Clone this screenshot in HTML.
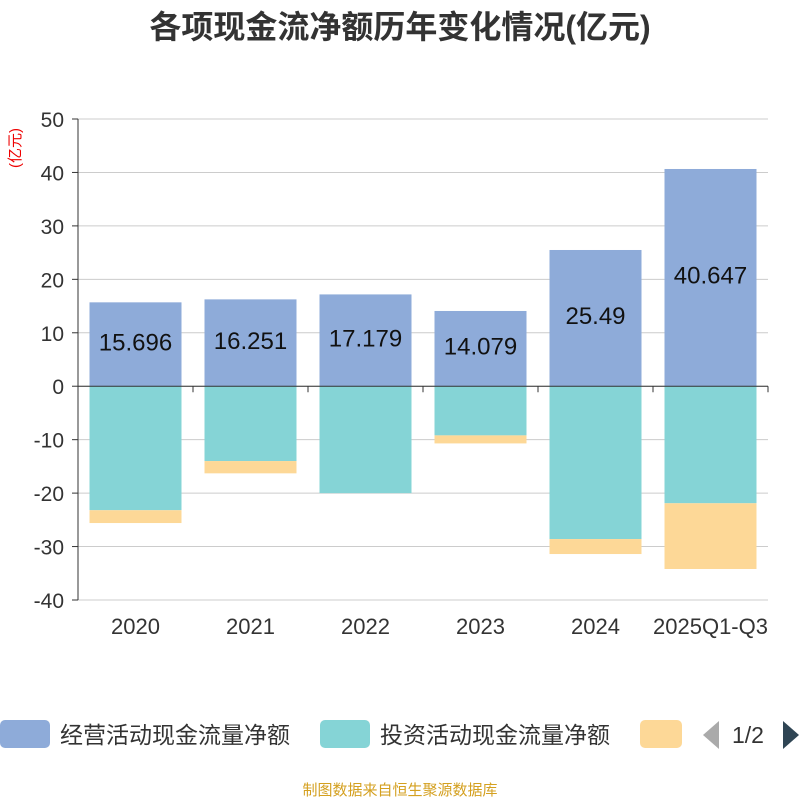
<!DOCTYPE html>
<html><head><meta charset="utf-8"><style>
body{margin:0;background:#fff;font-family:"Liberation Sans","Noto Sans CJK SC",sans-serif;}
</style></head><body>
<svg id="c" width="800" height="800" xmlns="http://www.w3.org/2000/svg">
<text x="400" y="38" text-anchor="middle" font-size="32" font-weight="bold" fill="#333" font-family="Liberation Sans,Noto Sans CJK SC,sans-serif">各项现金流净额历年变化情况(亿元)</text>
<text transform="translate(20,148) rotate(-90)" text-anchor="middle" font-size="15" fill="#e00" font-family="Liberation Sans,Noto Sans CJK SC,sans-serif">(亿元)</text>
<g id="grid"></g><g id="bars"></g><g id="axes"></g>
<g font-family="Liberation Sans,Noto Sans CJK SC,sans-serif" font-size="23" fill="#333">
<rect x="0" y="720" width="50" height="28" rx="5" fill="#8eabd9"/>
<text x="60" y="743">经营活动现金流量净额</text>
<rect x="320" y="720" width="50" height="28" rx="5" fill="#85d4d6"/>
<text x="380" y="743">投资活动现金流量净额</text>
<rect x="640" y="720" width="42" height="28" rx="5" fill="#fdd897"/>
<polygon points="719,721 719,749 703,735" fill="#aaa"/>
<text x="732" y="743" font-size="23">1/2</text>
<polygon points="783,721 783,749 799,735" fill="#2f4554"/>
</g>
<text x="400" y="795" text-anchor="middle" font-size="15" fill="#d4a020" font-family="Liberation Sans,Noto Sans CJK SC,sans-serif">制图数据来自恒生聚源数据库</text>
</svg>
<script>
const categories=["2020","2021","2022","2023","2024","2025Q1-Q3"];
const operating=[15.696,16.251,17.179,14.079,25.49,40.647];
const investing=[-23.2,-14.0,-20.0,-9.2,-28.6,-21.9];
const financing=[-2.4,-2.3,0,-1.5,-2.8,-12.3];
const yTicks=[50,40,30,20,10,0,-10,-20,-30,-40];
const NS="http://www.w3.org/2000/svg";
const x0=78,x1=768,yTop=119,yBot=600,yMax=50,yMin=-40;
const band=(x1-x0)/categories.length,bw=92;
const y=v=>yTop+(yMax-v)/(yMax-yMin)*(yBot-yTop);
const xc=i=>x0+band*(i+0.5);
function mk(t,a,p){const e=document.createElementNS(NS,t);for(const k in a)e.setAttribute(k,a[k]);p.appendChild(e);return e;}
const grid=document.getElementById('grid'),bars=document.getElementById('bars'),axes=document.getElementById('axes');
yTicks.forEach(v=>{
 const l=mk('line',{x1:x0,x2:x1,y1:y(v),y2:y(v),stroke:'#ccc','stroke-width':1},grid);
 
 
 const tk=mk('line',{x1:x0-6,x2:x0,y1:y(v),y2:y(v),stroke:'#333'},axes);
 
 
 const t=mk('text',{x:x0-14,y:y(v)+8,'text-anchor':'end','font-size':21,fill:'#333'},axes);
 t.textContent=v;
 
 
});
categories.forEach((c,i)=>{
 const bx=xc(i)-bw/2;
 const r1=mk('rect',{x:bx,y:y(operating[i]),width:bw,height:y(0)-y(operating[i]),fill:'#8eabd9'},bars);
 
 
 const r2=mk('rect',{x:bx,y:y(0),width:bw,height:y(investing[i])-y(0),fill:'#85d4d6'},bars);
 
 
 const s=investing[i]+financing[i];
 const r3=mk('rect',{x:bx,y:y(investing[i]),width:bw,height:y(s)-y(investing[i]),fill:'#fdd897'},bars);
 
 
 const lb=mk('text',{x:xc(i),y:(y(operating[i])+y(0))/2+6,'text-anchor':'middle','font-size':24,fill:'#111'},bars);
 lb.textContent=operating[i];
 
 
 const xt=mk('text',{x:xc(i),y:634,'text-anchor':'middle','font-size':22,fill:'#333'},axes);
 xt.textContent=c;
 
 
});
for(let i=0;i<=categories.length;i++){
 const t=mk('line',{x1:x0+band*i,x2:x0+band*i,y1:y(0),y2:y(0)+6,stroke:'#333'},axes);
 
 
}
const ya=mk('line',{x1:x0,x2:x0,y1:yTop,y2:yBot,stroke:'#333'},axes);


const xa=mk('line',{x1:x0,x2:x1,y1:y(0),y2:y(0),stroke:'#333'},axes);


</script>
</body></html>
